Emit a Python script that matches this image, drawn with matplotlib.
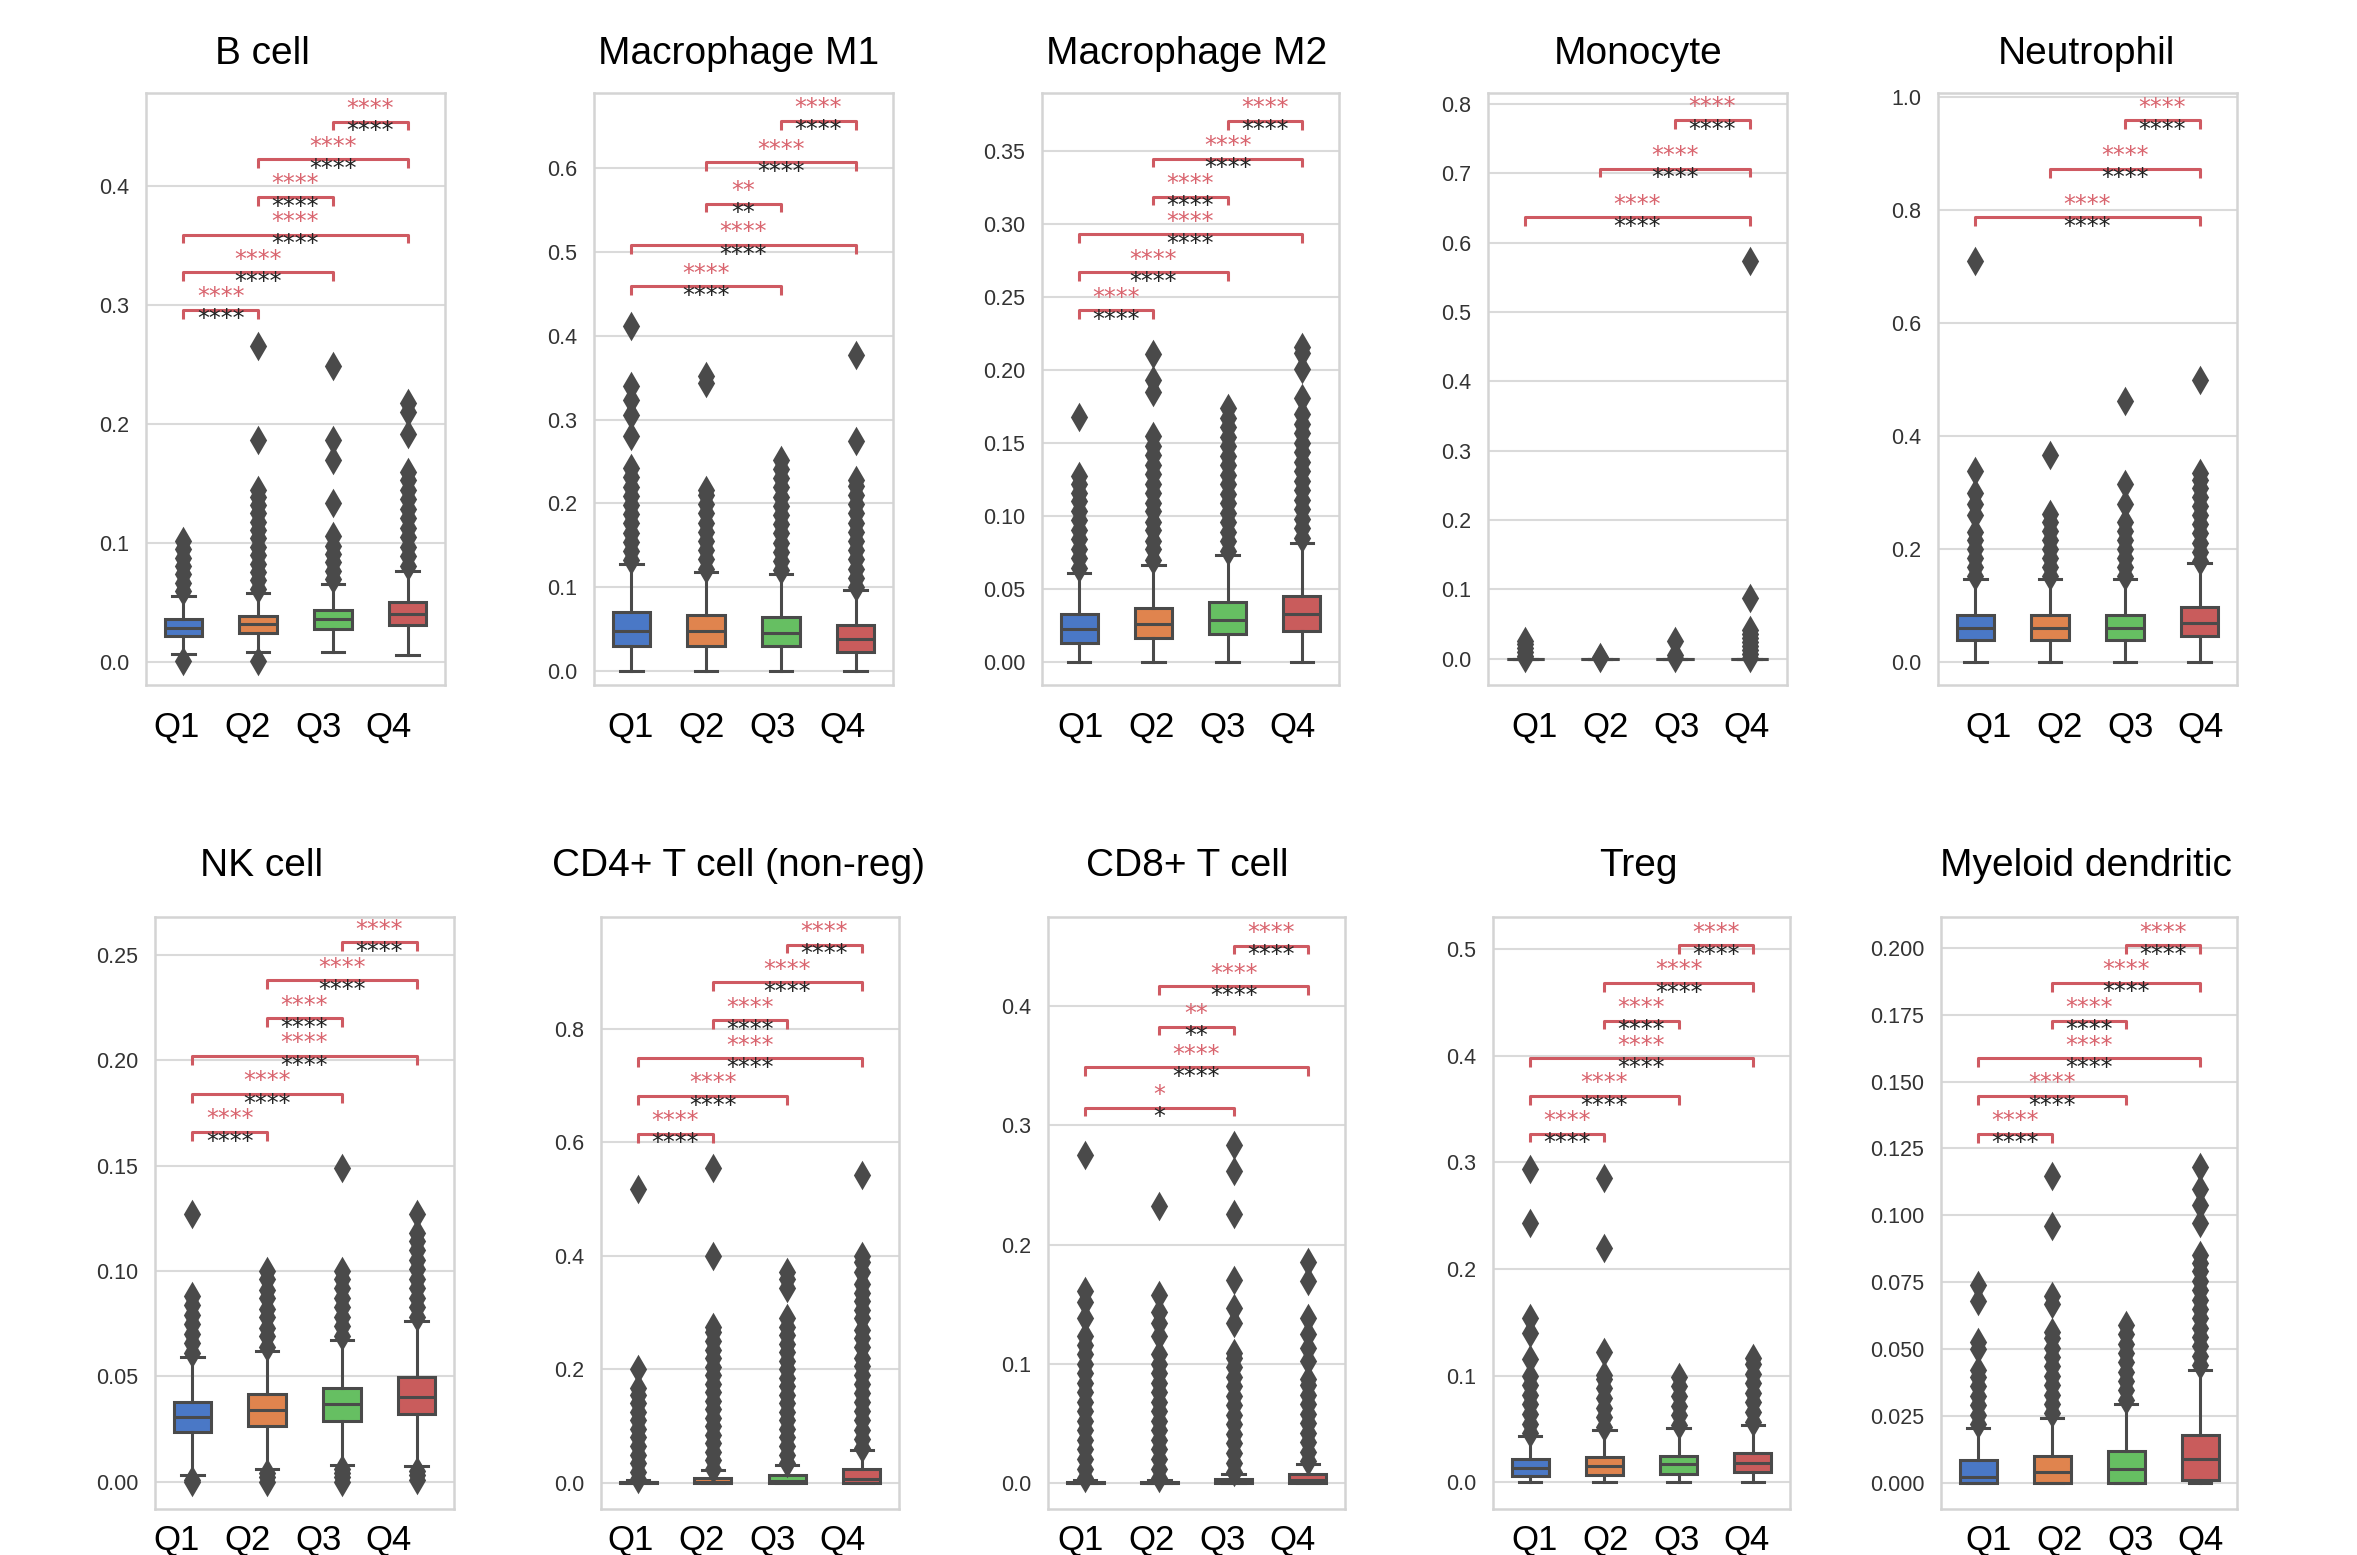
import numpy as np
import matplotlib
matplotlib.use("Agg")
import matplotlib.pyplot as plt

plt.rcParams["font.family"] = ["Liberation Sans", "DejaVu Sans"]

# ========================= Data =========================#
cell_types = [
    "B cell", "Macrophage M1", "Macrophage M2", "Monocyte", "Neutrophil",
    "NK cell", "CD4+ T cell (non-reg)", "CD8+ T cell", "Treg", "Myeloid dendritic",
]
quartiles = ["Q1", "Q2", "Q3", "Q4"]

# box statistics, one row per cell type, one value per quartile group
medians = [
    [0.029, 0.032, 0.036, 0.041],
    [0.048, 0.047, 0.045, 0.038],
    [0.0223, 0.0258, 0.0285, 0.0326],
    [0.0, 0.0, 0.0, 0.0],
    [0.061, 0.061, 0.061, 0.070],
    [0.0307, 0.0338, 0.0368, 0.040],
    [0.001, 0.002, 0.004, 0.006],
    [0.0, 0.0, 0.0005, 0.002],
    [0.0137, 0.0157, 0.0169, 0.0185],
    [0.0023, 0.0039, 0.0051, 0.0088],
]
box_low = [
    [0.022, 0.025, 0.028, 0.031],
    [0.030, 0.030, 0.029, 0.023],
    [0.0128, 0.0163, 0.019, 0.021],
    [0.0, 0.0, 0.0, 0.0],
    [0.039, 0.040, 0.040, 0.047],
    [0.0235, 0.0266, 0.029, 0.032],
    [0.0, 0.0, 0.0, 0.0],
    [0.0, 0.0, 0.0, 0.0],
    [0.0056, 0.0068, 0.0076, 0.0097],
    [0.0, 0.0, 0.0, 0.0011],
]
box_high = [
    [0.036, 0.039, 0.044, 0.051],
    [0.070, 0.067, 0.064, 0.055],
    [0.0326, 0.0367, 0.0408, 0.0449],
    [0.0, 0.0, 0.0, 0.0],
    [0.083, 0.0845, 0.083, 0.0986],
    [0.0376, 0.0417, 0.0444, 0.0495],
    [0.002, 0.009, 0.0137, 0.024],
    [0.001, 0.001, 0.003, 0.007],
    [0.022, 0.0238, 0.025, 0.0278],
    [0.0084, 0.010, 0.0119, 0.0177],
]
whisker_low = [
    [0.007, 0.009, 0.009, 0.006],
    [0.0, 0.0, 0.0, 0.0],
    [0.0, 0.0, 0.0, 0.0],
    [0.0, 0.0, 0.0, 0.0],
    [0.0, 0.0, 0.0, 0.0],
    [0.003, 0.006, 0.008, 0.0076],
    [0.0, 0.0, 0.0, 0.0],
    [0.0, 0.0, 0.0, 0.0],
    [0.0, 0.0, 0.0, 0.0],
    [0.0, 0.0, 0.0, 0.0],
]
whisker_high = [
    [0.056, 0.058, 0.066, 0.077],
    [0.128, 0.118, 0.116, 0.096],
    [0.061, 0.0666, 0.073, 0.0816],
    [0.0, 0.0, 0.0, 0.0],
    [0.148, 0.148, 0.148, 0.176],
    [0.059, 0.062, 0.067, 0.076],
    [0.005, 0.022, 0.032, 0.058],
    [0.0025, 0.0025, 0.007, 0.016],
    [0.043, 0.049, 0.051, 0.054],
    [0.0204, 0.0244, 0.0293, 0.042],
]
outliers = [
    [  # B cell
        [0.001, 0.060, 0.067, 0.074, 0.081, 0.088, 0.095, 0.102],
        [0.001, 0.062, 0.069, 0.076, 0.083, 0.090, 0.097, 0.104, 0.111, 0.118, 0.125,
         0.132, 0.139, 0.145, 0.187, 0.266],
        [0.070, 0.077, 0.084, 0.091, 0.098, 0.106, 0.134, 0.170, 0.187, 0.249],
        [0.081, 0.089, 0.097, 0.105, 0.113, 0.121, 0.129, 0.137, 0.145, 0.153, 0.160,
         0.192, 0.210, 0.218],
    ],
    [  # Macrophage M1
        [0.132, 0.143, 0.154, 0.165, 0.176, 0.187, 0.198, 0.209, 0.220, 0.231, 0.242,
         0.280, 0.306, 0.323, 0.340, 0.412],
        [0.122, 0.133, 0.144, 0.155, 0.166, 0.177, 0.188, 0.199, 0.210, 0.216, 0.344, 0.352],
        [0.120, 0.131, 0.142, 0.153, 0.164, 0.175, 0.186, 0.197, 0.208, 0.219, 0.230,
         0.241, 0.252],
        [0.100, 0.111, 0.122, 0.133, 0.144, 0.155, 0.166, 0.177, 0.188, 0.199, 0.210,
         0.221, 0.228, 0.274, 0.377],
    ],
    [  # Macrophage M2
        [0.064, 0.071, 0.077, 0.084, 0.090, 0.097, 0.103, 0.110, 0.116, 0.122, 0.127, 0.168],
        [0.070, 0.077, 0.083, 0.090, 0.096, 0.103, 0.109, 0.116, 0.122, 0.129, 0.135,
         0.142, 0.148, 0.155, 0.185, 0.193, 0.211],
        [0.076, 0.083, 0.089, 0.096, 0.102, 0.109, 0.115, 0.122, 0.128, 0.135, 0.141,
         0.148, 0.154, 0.161, 0.167, 0.174],
        [0.085, 0.092, 0.098, 0.105, 0.111, 0.118, 0.124, 0.131, 0.137, 0.144, 0.150,
         0.157, 0.163, 0.170, 0.181, 0.201, 0.212, 0.216],
    ],
    [  # Monocyte
        [0.001, 0.004, 0.010, 0.016, 0.021, 0.026],
        [0.001, 0.003],
        [0.001, 0.005, 0.025],
        [0.001, 0.006, 0.012, 0.018, 0.024, 0.030, 0.036, 0.042, 0.088, 0.574],
    ],
    [  # Neutrophil
        [0.152, 0.168, 0.184, 0.200, 0.216, 0.230, 0.260, 0.280, 0.300, 0.338, 0.709],
        [0.152, 0.168, 0.184, 0.200, 0.216, 0.232, 0.248, 0.262, 0.366],
        [0.152, 0.168, 0.184, 0.200, 0.216, 0.232, 0.248, 0.280, 0.315, 0.463],
        [0.180, 0.196, 0.212, 0.228, 0.244, 0.260, 0.276, 0.292, 0.308, 0.322, 0.335, 0.499],
    ],
    [  # NK cell
        [0.0, 0.001, 0.061, 0.066, 0.070, 0.075, 0.079, 0.084, 0.088, 0.127],
        [0.0, 0.002, 0.004, 0.064, 0.069, 0.073, 0.078, 0.082, 0.087, 0.091, 0.096, 0.100],
        [0.0, 0.002, 0.004, 0.006, 0.069, 0.074, 0.078, 0.083, 0.087, 0.092, 0.096,
         0.100, 0.149],
        [0.001, 0.003, 0.005, 0.078, 0.083, 0.087, 0.092, 0.096, 0.101, 0.105, 0.110,
         0.114, 0.118, 0.127],
    ],
    [  # CD4+ T cell (non-reg)
        [0.007, 0.020, 0.035, 0.050, 0.065, 0.080, 0.095, 0.110, 0.125, 0.140, 0.155,
         0.168, 0.201, 0.518],
        [0.025, 0.040, 0.055, 0.070, 0.085, 0.100, 0.115, 0.130, 0.145, 0.160, 0.175,
         0.190, 0.205, 0.220, 0.235, 0.250, 0.265, 0.275, 0.400, 0.554],
        [0.035, 0.050, 0.065, 0.080, 0.095, 0.110, 0.125, 0.140, 0.155, 0.170, 0.185,
         0.200, 0.215, 0.230, 0.245, 0.260, 0.275, 0.290, 0.343, 0.360, 0.372],
        [0.062, 0.078, 0.094, 0.110, 0.126, 0.142, 0.158, 0.174, 0.190, 0.206, 0.220,
         0.240, 0.256, 0.270, 0.290, 0.305, 0.320, 0.335, 0.350, 0.372, 0.390, 0.400, 0.543],
    ],
    [  # CD8+ T cell
        [0.004, 0.012, 0.020, 0.028, 0.036, 0.044, 0.052, 0.060, 0.068, 0.076, 0.084,
         0.092, 0.100, 0.108, 0.116, 0.123, 0.138, 0.152, 0.161, 0.275],
        [0.004, 0.012, 0.020, 0.028, 0.036, 0.044, 0.052, 0.060, 0.068, 0.076, 0.084,
         0.092, 0.100, 0.108, 0.123, 0.134, 0.143, 0.158, 0.232],
        [0.009, 0.017, 0.025, 0.033, 0.041, 0.049, 0.057, 0.065, 0.073, 0.081, 0.089,
         0.097, 0.105, 0.109, 0.134, 0.147, 0.170, 0.226, 0.262, 0.284],
        [0.018, 0.026, 0.034, 0.042, 0.050, 0.058, 0.066, 0.074, 0.082, 0.087, 0.102,
         0.113, 0.125, 0.138, 0.169, 0.185],
    ],
    [  # Treg
        [0.046, 0.055, 0.064, 0.073, 0.082, 0.091, 0.100, 0.116, 0.140, 0.154, 0.243, 0.294],
        [0.052, 0.061, 0.070, 0.079, 0.088, 0.097, 0.101, 0.122, 0.220, 0.285],
        [0.054, 0.063, 0.072, 0.081, 0.090, 0.099],
        [0.057, 0.066, 0.075, 0.084, 0.093, 0.102, 0.111, 0.117],
    ],
    [  # Myeloid dendritic
        [0.022, 0.0255, 0.029, 0.0325, 0.036, 0.0395, 0.042, 0.050, 0.0526, 0.068, 0.074],
        [0.026, 0.0295, 0.033, 0.0365, 0.040, 0.0435, 0.047, 0.0505, 0.054, 0.0565,
         0.067, 0.070, 0.096, 0.1145],
        [0.031, 0.0345, 0.038, 0.0415, 0.045, 0.0485, 0.052, 0.0555, 0.059],
        [0.044, 0.0475, 0.051, 0.0545, 0.058, 0.0615, 0.065, 0.0685, 0.072, 0.0755,
         0.079, 0.082, 0.085, 0.097, 0.104, 0.110, 0.118],
    ],
]

# significance annotations: (group a, group b, label), bottom bracket first
all_pairs = [(0, 1), (0, 2), (0, 3), (1, 2), (1, 3), (2, 3)]
stars4 = ["****"] * 6
comparisons = [
    list(zip(all_pairs, stars4)),
    list(zip(all_pairs[1:], ["****", "****", "**", "****", "****"])),
    list(zip(all_pairs, stars4)),
    list(zip([(0, 3), (1, 3), (2, 3)], stars4[:3])),
    list(zip([(0, 3), (1, 3), (2, 3)], stars4[:3])),
    list(zip(all_pairs, stars4)),
    list(zip(all_pairs, stars4)),
    list(zip(all_pairs[1:], ["*", "****", "**", "****", "****"])),
    list(zip(all_pairs, stars4)),
    list(zip(all_pairs, stars4)),
]

# ========================= Layout (figure pixels) =========================#
W, H = 2357, 1555
col_left = [[146, 594, 1042, 1488, 1938], [155, 601, 1048, 1493, 1941]]
col_right = [[445, 893, 1339, 1787, 2237], [454, 899, 1345, 1790, 2237]]
row_top = [93, 917]
ax_h = 592
title_x = [262, 739, 1187, 1638, 2086]
title_base = [64, 876]
qlab_x0 = [177, 631, 1081, 1535, 1989]
qlab_step = 70.6
qlab_base = [737, 1550]

ylims = [(-0.019, 0.478), (-0.017, 0.690), (-0.016, 0.390), (-0.038, 0.816), (-0.04, 1.007),
         (-0.013, 0.268), (-0.046, 0.997), (-0.022, 0.475), (-0.025, 0.530), (-0.0098, 0.2115)]
ytick_step = [0.1, 0.1, 0.05, 0.1, 0.2, 0.05, 0.2, 0.1, 0.1, 0.025]
ytick_max = [0.4, 0.6, 0.35, 0.8, 1.0, 0.25, 0.8, 0.4, 0.5, 0.2]
ytick_fmt = ["%.1f", "%.1f", "%.2f", "%.1f", "%.1f", "%.2f", "%.1f", "%.1f", "%.1f", "%.3f"]
bracket_start = [0.296, 0.459, 0.241, 0.637, 0.787, 0.166, 0.615, 0.315, 0.327, 0.1305]
bracket_step = [0.0316, 0.0495, 0.026, 0.070, 0.086, 0.018, 0.0667, 0.034, 0.0353, 0.0141]

box_colors = ["#4a78c6", "#e0844e", "#66bf62", "#c95c5c"]
gray = "#4a4a4a"
bracket_red = "#cf5a62"
star_red = "#d9646e"

fig = plt.figure(figsize=(W / 100, H / 100), dpi=100)

for i, name in enumerate(cell_types):
    r, c = divmod(i, 5)
    l, rt = col_left[r][c], col_right[r][c]
    top = row_top[r]
    ax = fig.add_axes([l / W, 1 - (top + ax_h) / H, (rt - l) / W, ax_h / H])

    stats = []
    for k in range(4):
        stats.append(dict(med=medians[i][k], q1=box_low[i][k], q3=box_high[i][k],
                          whislo=whisker_low[i][k], whishi=whisker_high[i][k],
                          fliers=outliers[i][k]))
    bp = ax.bxp(stats, positions=range(4), widths=0.5, capwidths=0.3, patch_artist=True,
                boxprops=dict(edgecolor=gray, linewidth=2.2),
                medianprops=dict(color=gray, linewidth=2.2),
                whiskerprops=dict(color=gray, linewidth=2.2),
                capprops=dict(color=gray, linewidth=2.2),
                flierprops=dict(marker="d", markersize=12, markerfacecolor=gray,
                                markeredgecolor=gray, markeredgewidth=2.0))
    for patch, col in zip(bp["boxes"], box_colors):
        patch.set_facecolor(col)

    lo, hi = ylims[i]
    ax.set_ylim(lo, hi)
    ax.set_xlim(-0.5, 3.5)
    ticks = np.arange(0, ytick_max[i] + 1e-9, ytick_step[i])
    ax.set_yticks(ticks)
    ax.set_yticklabels([ytick_fmt[i] % t for t in ticks])
    ax.set_xticks([])
    ax.tick_params(axis="y", length=0, pad=12, labelsize=15.5, labelcolor="#333333")
    ax.grid(axis="y", color="#dadada", linewidth=1.5)
    ax.set_axisbelow(True)
    for sp in ax.spines.values():
        sp.set_color("#d4d4d4")
        sp.set_linewidth(1.8)

    # significance brackets
    tick_h = 0.015 * (hi - lo)
    for j, ((a, b), lab) in enumerate(comparisons[i]):
        y = bracket_start[i] + j * bracket_step[i]
        ax.plot([a, a, b, b], [y - tick_h, y, y, y - tick_h], color=bracket_red,
                linewidth=2.2, solid_capstyle="butt", zorder=5)
        xm = (a + b) / 2
        ax.annotate(lab, (xm, y), xytext=(0, 4), textcoords="offset points",
                    ha="center", va="baseline", fontsize=17, color=star_red,
                    family="DejaVu Sans", zorder=6)
        ax.annotate(lab, (xm, y), xytext=(0, -12), textcoords="offset points",
                    ha="center", va="baseline", fontsize=17, color="#222222",
                    family="DejaVu Sans", zorder=6)

    fig.text(title_x[c] / W, 1 - title_base[r] / H, name, ha="center", va="baseline",
             fontsize=28, color="black")
    for k, q in enumerate(quartiles):
        fig.text((qlab_x0[c] + k * qlab_step) / W, 1 - qlab_base[r] / H, q,
                 ha="center", va="baseline", fontsize=25, color="black")

fig.savefig("out.png", dpi=100, facecolor="white")
